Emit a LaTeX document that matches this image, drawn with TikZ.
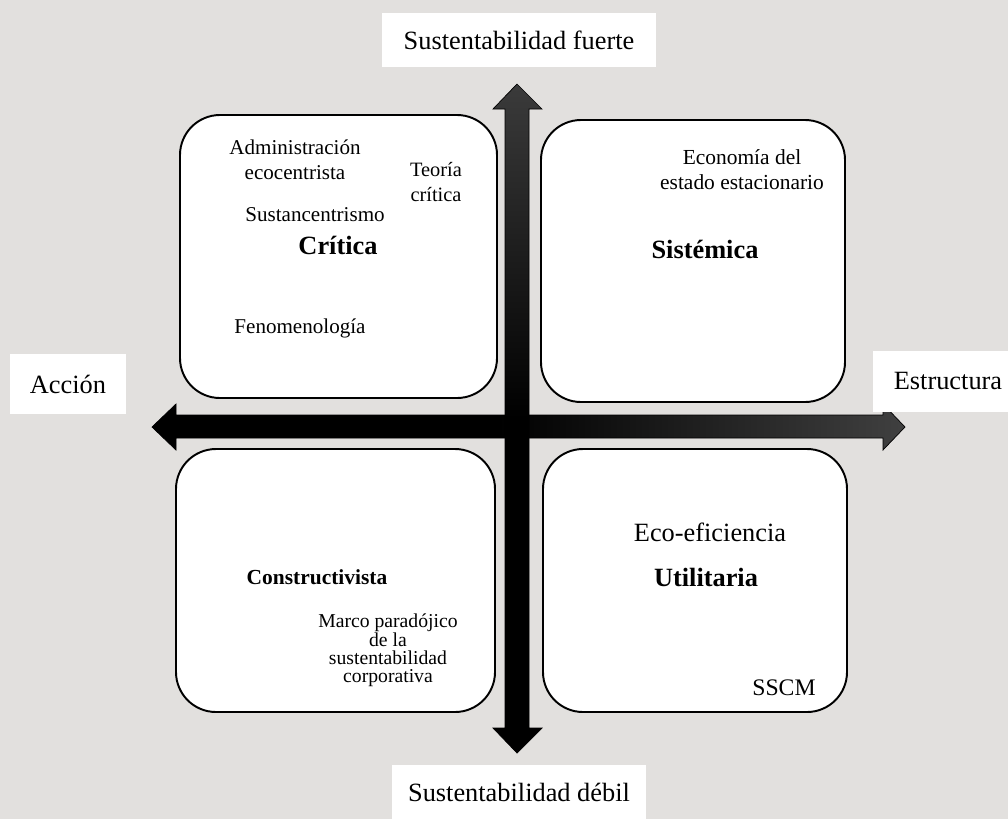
\documentclass[tikz,border=0pt]{standalone}
\usepackage{fontspec}
\setmainfont{Liberation Serif}
\usetikzlibrary{calc}
\definecolor{fondo}{RGB}{226,224,222}
\pgfdeclarehorizontalshading{ejeH}{100bp}{color(0bp)=(black); color(25bp)=(black); color(48bp)=(black); color(75bp)=(black!75!white); color(100bp)=(black!75!white)}
\pgfdeclareverticalshading{ejeV}{100bp}{color(0bp)=(black); color(25bp)=(black); color(50bp)=(black); color(75bp)=(black!77!white); color(100bp)=(black!77!white)}
\tikzset{
	cuadro/.style={draw=black, line width=1.1pt, fill=white, rounded corners=0.8cm},
	etiqueta/.style={fill=white, inner sep=0pt, font=\fontsize{15}{18}\selectfont},
	texto/.style={inner sep=0pt, align=center, font=\fontsize{12}{14.2}\selectfont},
	titulo/.style={inner sep=0pt, font=\fontsize{15}{18}\selectfont\bfseries}
}

\begin{document}
\begin{tikzpicture}[x=0.02cm, y=-0.02cm]
		%%%%% FONDO %%%%%
		\useasboundingbox (0, 0) rectangle (1008, 819);
		\clip (0, 0) rectangle (1008, 819);
		\fill[fondo] (0, 0) rectangle (1008, 819);
		
		%%%%% CUADRANTES %%%%%
		\draw[cuadro] (180, 115) rectangle (497, 398);
		\draw[cuadro] (541, 120) rectangle (845, 402);
		\draw[cuadro] (176, 449) rectangle (495, 712);
		\draw[cuadro] (543, 449) rectangle (847, 712);
		
		%%%%% EJES %%%%%
		\draw[line width=0.4pt, shading=ejeH] (152, 427) -- (176, 404) -- (176, 415) -- (883, 415) -- (883, 404) -- (905, 427) -- (883, 450) -- (883, 438) -- (176, 438) -- (176, 450) -- cycle;
		\draw[line width=0.4pt, shading=ejeV] (517, 84) -- (542, 109) -- (529, 109) -- (529, 728) -- (542, 728) -- (517, 753) -- (493, 728) -- (505, 728) -- (505, 109) -- (493, 109) -- cycle;
		
		%%%%% ETIQUETAS %%%%%
		\node[etiqueta, minimum width=5.48cm, minimum height=1.08cm] (fuerte) at (519, 40) {Sustentabilidad fuerte};
		\node[etiqueta, minimum width=5.1cm, minimum height=1.08cm] (debil) at (519, 792) {Sustentabilidad débil};
		\node[etiqueta, minimum width=2.34cm, minimum height=1.2cm] (accion) at (68, 384) {Acción};
		\node[etiqueta, minimum width=3cm, minimum height=1.22cm] (estructura) at (948, 381) {Estructura};
		
		%%%%% CRITICA %%%%%
		\node[texto] (admin) at (295, 160) {Administración\\ecocentrista};
		\node[texto, font=\fontsize{11.6}{13.7}\selectfont] (teoria) at (436, 182) {Teoría\\crítica};
		\node[texto] (sustan) at (315, 215) {Sustancentrismo};
		\node[titulo] (critica) at (338, 245) {Crítica};
		\node[texto] (fenom) at (300, 328) {Fenomenología};
		
		%%%%% SISTEMICA %%%%%
		\node[texto, font=\fontsize{12.2}{14.2}\selectfont] (econ) at (742, 170) {Economía del\\estado estacionario};
		\node[titulo] (sistemica) at (705, 249) {Sistémica};
		
		%%%%% CONSTRUCTIVISTA %%%%%
		\node[titulo, font=\fontsize{12.2}{14.2}\selectfont\bfseries] (constr) at (317, 577) {Constructivista};
		\node[texto, font=\fontsize{11.2}{10}\selectfont] (marco) at (388, 650) {Marco paradójico\\de la\\sustentabilidad\\corporativa};
		
		%%%%% UTILITARIA %%%%%
		\node[texto, font=\fontsize{15}{18}\selectfont] (ecoef) at (710, 532) {Eco-eficiencia};
		\node[titulo] (utilit) at (706, 577) {Utilitaria};
		\node[texto, font=\fontsize{13.5}{16}\selectfont] (sscm) at (784, 688) {SSCM};
		
	\end{tikzpicture}
\end{document}
